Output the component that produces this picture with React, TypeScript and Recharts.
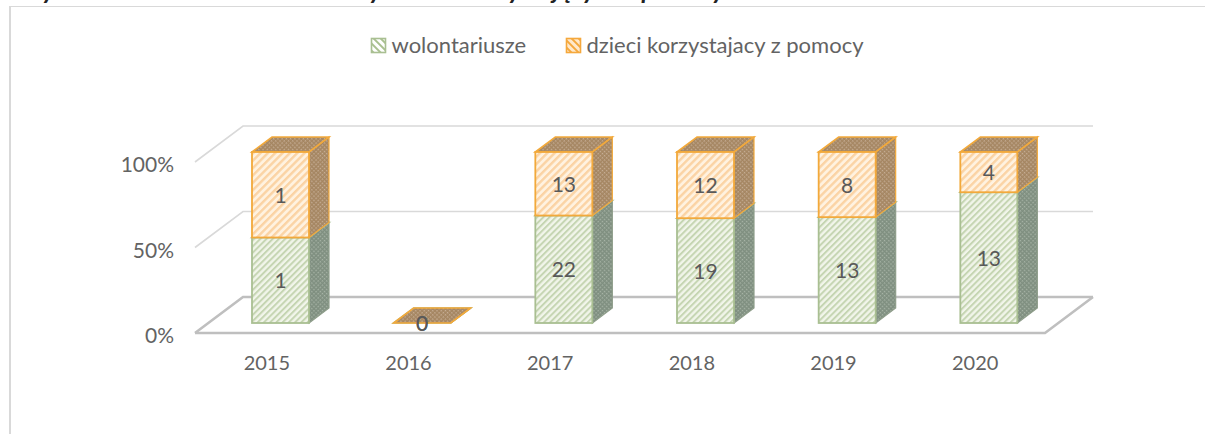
import React from 'react';
import { BarChart, Bar, XAxis, YAxis, CartesianGrid, Legend, LabelList } from 'recharts';

const years = ['2015', '2016', '2017', '2018', '2019', '2020'];
const volunteers = [1, 0, 22, 19, 13, 13];
const children = [1, 0, 13, 12, 8, 4];
const percentTicks = [0, 0.5, 1];
const VOL = 'wolontariusze';
const KID = 'dzieci korzystajacy z pomocy';
const TITLE = 'Rysunek 12. Liczba wolontariuszy i dzieci korzystających z pomocy w latach 2015-2020';

const rows = years.map((y, i) => ({ year: y, vol: volunteers[i], kid: children[i] }));

const FONT = 'Lato, Carlito, "Open Sans", sans-serif';
const TEXT = '#636363';
const DX = 15; // bar plane offset from front of the floor
const DY = -10;
const DEPTH_X = 20;
const DEPTH_Y = 15;
const WALL_X = 48;
const WALL_Y = 36;

const Patterns = () => (
  <defs>
    <pattern id="gFront" width="4.4" height="4.4" patternUnits="userSpaceOnUse" patternTransform="rotate(45)">
      <rect width="4.4" height="4.4" fill="#F1F5EA" />
      <rect width="2" height="4.4" fill="#C5D5B2" />
    </pattern>
    <pattern id="oFront" width="5.2" height="5.2" patternUnits="userSpaceOnUse" patternTransform="rotate(45)">
      <rect width="5.2" height="5.2" fill="#FFF2E0" />
      <rect width="2.4" height="5.2" fill="#FBD3A4" />
    </pattern>
    <pattern id="gSide" width="3" height="3" patternUnits="userSpaceOnUse" patternTransform="rotate(45)">
      <rect width="3" height="3" fill="#7F8F80" />
      <rect width="1.4" height="1.4" fill="#A9B6A8" />
    </pattern>
    <pattern id="oSide" width="3" height="3" patternUnits="userSpaceOnUse" patternTransform="rotate(45)">
      <rect width="3" height="3" fill="#A58662" />
      <rect width="1.4" height="1.4" fill="#C9B199" />
    </pattern>
    <pattern id="gIcon" width="5" height="5" patternUnits="userSpaceOnUse" patternTransform="rotate(-45)">
      <rect width="5" height="5" fill="#FFFFFF" />
      <rect width="2" height="5" fill="#A9C08F" />
    </pattern>
    <pattern id="oIcon" width="5" height="5" patternUnits="userSpaceOnUse" patternTransform="rotate(-45)">
      <rect width="5" height="5" fill="#FFE9CC" />
      <rect width="2" height="5" fill="#F5A83C" />
    </pattern>
  </defs>
);

const cube = (front: string, side: string, top: string, stroke: string, sideStroke: string) => (p: any) => {
  const x = p.x + DX;
  const y = p.y + DY;
  const w = p.width;
  const h = Math.max(p.height, 0);
  const dx = DEPTH_X;
  const dy = DEPTH_Y;
  return (
    <g>
      <polygon
        points={`${x + w},${y} ${x + w + dx},${y - dy} ${x + w + dx},${y + h - dy} ${x + w},${y + h}`}
        fill={side}
        stroke={sideStroke}
        strokeWidth={1.2}
      />
      <polygon
        points={`${x},${y} ${x + dx},${y - dy} ${x + w + dx},${y - dy} ${x + w},${y}`}
        fill={top}
        stroke={stroke}
        strokeWidth={1.6}
      />
      <rect x={x} y={y} width={w} height={h} fill={front} stroke={stroke} strokeWidth={1.8} />
    </g>
  );
};

const shapeVol = cube('url(#gFront)', 'url(#gSide)', 'url(#gSide)', '#A9BF92', '#8E9D8A');
const shapeKid = cube('url(#oFront)', 'url(#oSide)', 'url(#oSide)', '#F2A93B', '#F2A93B');

const gridLine = (p: any) => {
  const isFloor = Math.abs(p.y1 - 333) < 1;
  const c = isFloor ? '#BFBFBF' : '#D9D9D9';
  const sw = isFloor ? 2.6 : 1.6;
  const L = p.x1;
  const R = p.x2;
  const y = p.y1;
  return (
    <g key={p.key}>
      <polyline points={`${L},${y} ${L + WALL_X},${y - WALL_Y} ${R + WALL_X},${y - WALL_Y}`} fill="none" stroke={c} strokeWidth={sw} />
      {isFloor && <polyline points={`${L},${y} ${R},${y} ${R + WALL_X},${y - WALL_Y}`} fill="none" stroke={c} strokeWidth={sw} />}
    </g>
  );
};

const barLabel = (p: any) => (
  <text
    x={p.x + DX + p.width / 2}
    y={p.y + DY + p.height / 2}
    dy={8}
    textAnchor="middle"
    fontFamily={FONT}
    fontSize={21}
    fill="#595959"
  >
    {p.value}
  </text>
);

const yTick = (p: any) => (
  <text x={p.x} y={p.y + 10} textAnchor="end" fontFamily={FONT} fontSize={21} fill={TEXT}>
    {`${Math.round(p.payload.value * 100)}%`}
  </text>
);

const LegendBody = (props: any) => {
  const byName: Record<string, any> = {};
  (props.payload || []).forEach((e: any) => {
    byName[e.value] = e;
  });
  const order = [VOL, KID];
  const icons = ['url(#gIcon)', 'url(#oIcon)'];
  const strokes = ['#A9BF92', '#F5A83C'];
  const xs = [371.5, 566.5];
  return (
    <svg width={1205} height={40} style={{ position: 'absolute', left: 0, top: 0, overflow: 'visible' }}>
      {order.filter((n) => byName[n]).map((n, i) => (
        <g key={n}>
          <rect x={xs[i]} y={4.5} width={14} height={14} fill={icons[i]} stroke={strokes[i]} strokeWidth={1.6} />
          <text x={xs[i] + 20} y={19} fontFamily={FONT} fontSize={22} fill={TEXT}>
            {n}
          </text>
        </g>
      ))}
    </svg>
  );
};

export default function App() {
  return (
    <div style={{ position: 'absolute', left: 0, top: 0, width: 1205, height: 434, overflow: 'hidden', background: '#fff' }}>
      <div
        style={{
          position: 'absolute',
          left: 28,
          top: -26.5,
          whiteSpace: 'nowrap',
          font: `italic bold 25px ${FONT}`,
          color: '#222',
        }}
      >
        {TITLE}
      </div>
      <div style={{ position: 'absolute', left: 9, top: 6, width: 1196, height: 428, borderLeft: '2px solid #D9D9D9', borderTop: '1.5px solid #D9D9D9' }} />
      <div style={{ position: 'absolute', left: 0, top: 0 }}>
        <BarChart
          width={1205}
          height={434}
          data={rows}
          stackOffset="expand"
          barSize={57}
          margin={{ top: 34, right: 160, bottom: 71, left: 0 }}
        >
          <Patterns />
          <CartesianGrid vertical={false} horizontal={gridLine} />
          <XAxis
            dataKey="year"
            axisLine={false}
            tickLine={false}
            height={30}
            tickMargin={17}
            tick={{ fontFamily: FONT, fontSize: 20, fill: TEXT, dx: 1 }}
          />
          <YAxis
            width={195}
            domain={[0, 1]}
            ticks={percentTicks}
            axisLine={false}
            tickLine={false}
            tickMargin={15}
            tick={yTick}
          />
          <Legend verticalAlign="top" height={128} content={<LegendBody />} wrapperStyle={{ left: 0, width: 1205 }} />
          <Bar dataKey="vol" name={VOL} stackId="a" shape={shapeVol} isAnimationActive={false}>
            <LabelList dataKey="vol" content={barLabel} />
          </Bar>
          <Bar dataKey="kid" name={KID} stackId="a" shape={shapeKid} isAnimationActive={false}>
            <LabelList dataKey="kid" content={barLabel} />
          </Bar>
        </BarChart>
      </div>
    </div>
  );
}
